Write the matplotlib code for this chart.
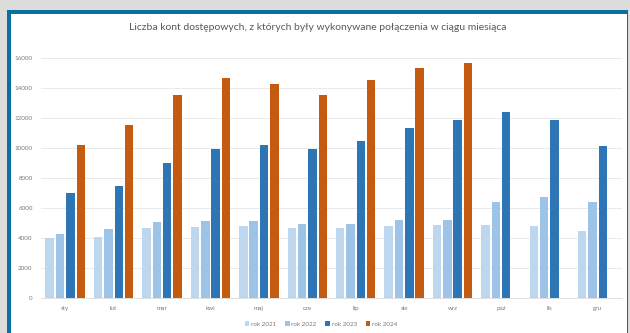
import numpy as np
import matplotlib.pyplot as plt
from matplotlib.patches import Rectangle

months = ['sty', 'lut', 'mar', 'kwi', 'maj', 'cze', 'lip', 'sie', 'wrz', 'paź', 'lis', 'gru']
rok_2021 = [3980, 4090, 4640, 4760, 4800, 4640, 4690, 4800, 4870, 4870, 4780, 4470]
rok_2022 = [4300, 4600, 5040, 5160, 5110, 4930, 4960, 5180, 5180, 6380, 6710, 6380]
rok_2023 = [7020, 7440, 9000, 9910, 10220, 9910, 10470, 11330, 11870, 12380, 11870, 10110]
rok_2024 = [10220, 11530, 13560, 14670, 14270, 13560, 14530, 15330, 15690]

series = [('rok 2021', rok_2021, '#bdd7ee'),
          ('rok 2022', rok_2022, '#9dc3e6'),
          ('rok 2023', rok_2023, '#2e75b6'),
          ('rok 2024', rok_2024, '#c55a11')]

plt.rcParams['font.family'] = ['Lato', 'DejaVu Sans']

W, H = 630, 333
fig = plt.figure(figsize=(W / 100, H / 100), dpi=100)
fig.patch.set_facecolor('#dcdcdc')

# panel with blue frame (top and left visible)
fig.add_artist(Rectangle((7 / W, 0), (628 - 7) / W, (H - 10) / H,
                         transform=fig.transFigure, facecolor='#0b6fa4', edgecolor='none', zorder=-2))
fig.add_artist(Rectangle((11 / W, 0), (627 - 11) / W, (H - 14) / H,
                         transform=fig.transFigure, facecolor='white', edgecolor='none', zorder=-1))

ax = fig.add_axes([41 / W, 1 - 298 / H, (622 - 41) / W, (298 - 58) / H])
ax.set_facecolor('none')

x = np.arange(len(months))
slot = 0.214
bw = 0.175
for i, (name, vals, col) in enumerate(series):
    xs = x[:len(vals)] + (i - 1.5) * slot
    ax.bar(xs, vals, width=bw, color=col, label=name, zorder=3)

ax.set_xlim(-0.5, len(months) - 0.5)
ax.set_ylim(0, 16000)
ax.set_yticks(np.arange(0, 16001, 2000))
ax.set_xticks(x)
ax.set_xticklabels(months)
ax.tick_params(axis='both', length=0, labelsize=4.5, colors='#7a7a7a')
ax.tick_params(axis='y', pad=6)
ax.tick_params(axis='x', pad=6)
ax.grid(axis='y', color='#e6e6e6', linewidth=0.6, zorder=0)
for s in ['top', 'right', 'left']:
    ax.spines[s].set_visible(False)
ax.spines['bottom'].set_color('#d9d9d9')
ax.spines['bottom'].set_linewidth(0.6)

fig.text(318 / W, 1 - 27 / H,
         'Liczba kont dostępowych, z których były wykonywane połączenia w ciągu miesiąca',
         ha='center', va='center', fontsize=7.5, color='#595959')

fig.legend(loc='center', bbox_to_anchor=(321 / W, 1 - 324 / H), ncol=4, frameon=False,
           fontsize=4.5, handlelength=0.7, handleheight=0.7, handletextpad=0.3,
           columnspacing=1.4, labelcolor='#7a7a7a')

fig.savefig('out.png', dpi=100, facecolor=fig.get_facecolor())
